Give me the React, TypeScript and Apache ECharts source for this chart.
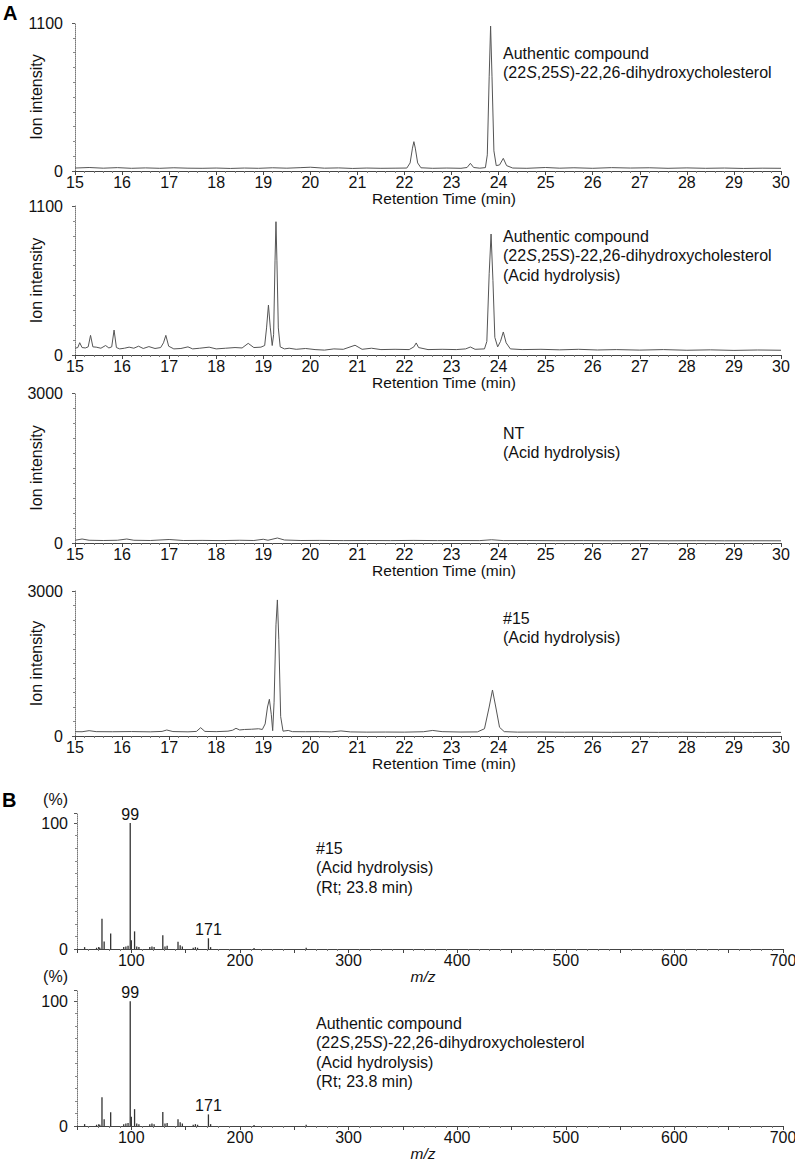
import React, { useEffect, useRef } from 'react';
import * as echarts from 'echarts';

const FONT = '"Liberation Sans", Arial, Helvetica, sans-serif';
const TEXT = '#111';

// ---------- Chromatograms (Retention time, min ; ion intensity) ----------
const chromAuthentic: number[][] = [
  [15.0, 22], [15.3, 26], [15.6, 21], [15.9, 25], [16.2, 20], [16.5, 23], [16.8, 20], [17.1, 24],
  [17.4, 21], [17.7, 20], [18.0, 22], [18.3, 19], [18.6, 22], [18.9, 20], [19.2, 24], [19.5, 21],
  [19.8, 25], [20.0, 28], [20.3, 21], [20.6, 23], [20.9, 19], [21.2, 22], [21.5, 20], [21.8, 21],
  [22.05, 22], [22.12, 60], [22.17, 170], [22.2, 218], [22.23, 170], [22.28, 60], [22.35, 24],
  [22.6, 20], [22.9, 22], [23.2, 20], [23.33, 26], [23.4, 57], [23.47, 26], [23.6, 21], [23.72, 25],
  [23.76, 120], [23.8, 700], [23.83, 1077], [23.86, 700], [23.9, 150], [23.95, 40], [24.02, 45],
  [24.1, 94], [24.17, 40], [24.3, 22], [24.6, 20], [25.0, 26], [25.3, 21], [25.6, 24], [26.0, 20],
  [26.4, 25], [26.8, 22], [27.2, 24], [27.6, 20], [28.0, 23], [28.4, 20], [28.8, 22], [29.2, 19],
  [29.6, 21], [30.0, 20],
];

const chromAuthenticAcid: number[][] = [
  [15.0, 50], [15.06, 55], [15.1, 91], [15.15, 55], [15.22, 52], [15.28, 60], [15.33, 145], [15.38, 60],
  [15.45, 58], [15.55, 50], [15.65, 70], [15.72, 52], [15.78, 60], [15.83, 184], [15.88, 55], [15.95, 45],
  [16.05, 50], [16.15, 58], [16.25, 50], [16.35, 65], [16.45, 48], [16.57, 62], [16.7, 48], [16.82, 55],
  [16.88, 90], [16.93, 145], [16.99, 65], [17.1, 45], [17.25, 48], [17.4, 60], [17.5, 45], [17.65, 50],
  [17.85, 58], [18.0, 45], [18.2, 50], [18.4, 55], [18.55, 52], [18.68, 86], [18.8, 55], [18.95, 58],
  [19.03, 70], [19.07, 200], [19.11, 369], [19.15, 200], [19.19, 70], [19.22, 150], [19.25, 700],
  [19.27, 984], [19.29, 700], [19.32, 200], [19.36, 60], [19.45, 45], [19.55, 50], [19.7, 42],
  [19.9, 48], [20.1, 40], [20.3, 36], [20.5, 45], [20.7, 42], [20.95, 72], [21.1, 42], [21.3, 50],
  [21.5, 40], [21.8, 42], [22.1, 40], [22.2, 60], [22.25, 89], [22.3, 55], [22.5, 40], [22.8, 42],
  [23.1, 40], [23.3, 45], [23.4, 59], [23.5, 42], [23.7, 45], [23.75, 100], [23.8, 600], [23.84, 893],
  [23.88, 550], [23.92, 130], [23.98, 60], [24.04, 100], [24.1, 170], [24.16, 90], [24.25, 45],
  [24.5, 40], [24.9, 42], [25.3, 38], [25.7, 42], [26.1, 37], [26.5, 40], [27.0, 36], [27.5, 40],
  [28.0, 35], [28.5, 38], [29.0, 34], [29.5, 37], [30.0, 35],
];

const chromNT: number[][] = [
  [15.0, 55], [15.15, 80], [15.3, 55], [15.6, 50], [15.9, 55], [16.1, 80], [16.25, 55], [16.6, 50],
  [17.0, 70], [17.3, 50], [17.7, 52], [18.1, 48], [18.5, 55], [18.8, 50], [19.0, 75], [19.1, 55],
  [19.3, 100], [19.45, 60], [19.8, 50], [20.2, 52], [20.7, 48], [21.2, 50], [21.7, 48], [22.2, 52],
  [22.7, 48], [23.2, 50], [23.6, 48], [23.85, 65], [24.1, 48], [24.6, 50], [25.2, 46], [25.8, 48],
  [26.4, 45], [27.0, 47], [27.6, 44], [28.2, 46], [28.8, 44], [29.4, 45], [30.0, 44],
];

const chrom15: number[][] = [
  [15.0, 90], [15.15, 88], [15.3, 110], [15.45, 90], [15.8, 88], [16.2, 92], [16.6, 86], [16.85, 95],
  [16.95, 124], [17.08, 92], [17.4, 86], [17.58, 95], [17.67, 172], [17.76, 95], [18.0, 90], [18.25, 100],
  [18.35, 120], [18.42, 159], [18.5, 125], [18.6, 135], [18.75, 140], [18.9, 150], [18.98, 135],
  [19.04, 250], [19.09, 600], [19.13, 760], [19.17, 450], [19.2, 110], [19.23, 700], [19.27, 2300],
  [19.3, 2815], [19.33, 2000], [19.37, 400], [19.42, 100], [19.53, 115], [19.62, 90], [19.9, 88],
  [20.2, 90], [20.45, 85], [20.65, 105], [20.85, 85], [21.2, 80], [21.6, 82], [22.0, 80], [22.4, 88],
  [22.6, 115], [22.8, 90], [23.2, 82], [23.55, 85], [23.7, 150], [23.8, 600], [23.87, 952], [23.94, 600],
  [24.02, 180], [24.12, 90], [24.4, 80], [24.9, 82], [25.4, 78], [25.9, 80], [26.4, 76], [26.9, 78],
  [27.4, 75], [27.9, 77], [28.4, 74], [28.9, 76], [29.4, 73], [30.0, 75],
];

const chromData = [chromAuthentic, chromAuthenticAcid, chromNT, chrom15];
const chromMax = [1100, 1100, 3000, 3000];
const rtRange = [15, 30];

// ---------- Mass spectra (m/z ; relative abundance %) ----------
const ms15: number[][] = [
  [57, 1.5], [68, 1], [70, 1.5], [71, 1], [73, 24], [75, 6], [81, 12.4], [93, 1.5], [95, 2], [97, 2.5],
  [99, 100], [100, 7], [103, 14], [105, 2], [107, 1.5], [117, 1.5], [119, 2], [121, 1.5], [129, 11],
  [131, 2], [133, 2.5], [143, 5.8], [145, 3], [147, 2], [157, 1], [159, 1.5], [161, 1], [171, 8.5],
  [173, 1.5], [213, 0.8], [261, 1],
];
const msAuthentic: number[][] = [
  [57, 1.5], [68, 1], [70, 1.5], [71, 1], [73, 23], [75, 5.5], [81, 11], [93, 1.5], [95, 2], [97, 2.5],
  [99, 100], [100, 7.4], [103, 13.5], [105, 2], [107, 1.5], [117, 1.5], [119, 2], [121, 1.5], [129, 11.3],
  [131, 2], [133, 2.5], [143, 5.5], [145, 3], [147, 2], [157, 1], [159, 1.5], [161, 1], [171, 9.3],
  [173, 1.5], [213, 0.8], [261, 1],
];
const msData = [ms15, msAuthentic];
const msLabeled = [99, 171];
const mzRange = [50, 700];

// ---------- Annotations ----------
const chromNotes: string[][] = [
  ['Authentic compound', '(22{i|S},25{i|S})-22,26-dihydroxycholesterol'],
  ['Authentic compound', '(22{i|S},25{i|S})-22,26-dihydroxycholesterol', '(Acid hydrolysis)'],
  ['NT', '(Acid hydrolysis)'],
  ['#15', '(Acid hydrolysis)'],
];
const msNotes: string[][] = [
  ['#15', '(Acid hydrolysis)', '(Rt; 23.8 min)'],
  ['Authentic compound', '(22{i|S},25{i|S})-22,26-dihydroxycholesterol', '(Acid hydrolysis)', '(Rt; 23.8 min)'],
];

export default function App() {
  const ref = useRef<HTMLDivElement>(null);

  useEffect(() => {
    document.body.style.margin = '0';
    if (!ref.current) return;
    const chart = echarts.init(ref.current, undefined, { renderer: 'svg' });

    const chromGrids = [
      { top: 23, height: 148 },
      { top: 206, height: 149 },
      { top: 393, height: 150 },
      { top: 591, height: 145 },
    ];
    const msGrids = [
      { top: 813, height: 136, max: 108 },
      { top: 990, height: 136, max: 109 },
    ];
    const chromNoteY = [53, 236, 433, 618];
    const msNoteY = [848, 1023];

    const grid: any[] = [];
    const xAxis: any[] = [];
    const yAxis: any[] = [];
    const series: any[] = [];
    const graphic: any[] = [];

    const txt = { fontFamily: FONT, fontSize: 16, color: TEXT };
    const nameTxt = { fontFamily: FONT, fontSize: 15.5, color: TEXT };

    chromGrids.forEach((g, i) => {
      grid.push({ left: 75, width: 706, top: g.top, height: g.height, outerBoundsMode: 'none' });
      xAxis.push({
        type: 'value', gridIndex: i, min: rtRange[0], max: rtRange[1], interval: 1,
        axisLine: { show: true, lineStyle: { color: '#444', width: 1 } },
        axisTick: { show: true, length: 4, lineStyle: { color: '#444' } },
        minorTick: { show: true, splitNumber: 5, length: 2, lineStyle: { color: '#777' } },
        splitLine: { show: false },
        axisLabel: { ...txt, margin: 3, formatter: (v: number) => String(v) },
        name: 'Retention Time (min)', nameLocation: 'middle', nameGap: 19, nameMoveOverlap: false,
        nameTextStyle: { ...nameTxt, padding: [0, 0, 0, 32] },
      });
      yAxis.push({
        type: 'value', gridIndex: i, min: 0, max: chromMax[i], interval: chromMax[i],
        axisLine: { show: true, lineStyle: { color: '#777', type: 'dotted' } },
        axisTick: { show: true, length: 3, lineStyle: { color: '#555' } },
        minorTick: { show: true, splitNumber: 10, length: 2, lineStyle: { color: '#888' } },
        splitLine: { show: false },
        axisLabel: { ...txt, margin: 12, formatter: (v: number) => String(v) },
        name: 'Ion intensity', nameLocation: 'middle', nameGap: 31, nameRotate: 90, nameMoveOverlap: false,
        nameTextStyle: txt,
      });
      series.push({
        type: 'line', xAxisIndex: i, yAxisIndex: i, data: chromData[i],
        showSymbol: false, symbol: 'none', silent: true,
        lineStyle: { color: '#555', width: 1 },
      });
      chromNotes[i].forEach((line, k) => {
        graphic.push({
          type: 'text', x: 503, y: chromNoteY[i] + k * 19.5, silent: true,
          style: {
            text: line, fill: TEXT, font: `16px ${FONT}`, verticalAlign: 'middle',
            rich: { i: { fontStyle: 'italic', fontSize: 16, fontFamily: FONT, fill: TEXT } },
          },
        });
      });
    });

    msGrids.forEach((g, j) => {
      const i = j + 4;
      grid.push({ left: 77, width: 706, top: g.top, height: g.height, outerBoundsMode: 'none' });
      xAxis.push({
        type: 'value', gridIndex: i, min: mzRange[0], max: mzRange[1], interval: 50,
        axisLine: { show: true, lineStyle: { color: '#444', width: 1 } },
        axisTick: { show: true, length: 4, lineStyle: { color: '#444' } },
        minorTick: { show: true, splitNumber: 5, length: 2, lineStyle: { color: '#777' } },
        splitLine: { show: false },
        axisLabel: { ...txt, margin: 3, formatter: (v: number) => (v % 100 === 0 ? String(v) : '') },
        name: 'm/z', nameLocation: 'middle', nameGap: 19, nameMoveOverlap: false,
        nameTextStyle: { ...nameTxt, fontStyle: 'italic', padding: [0, 14, 0, 0] },
      });
      yAxis.push({
        type: 'value', gridIndex: i, min: 0, max: g.max, interval: 100,
        axisLine: { show: true, lineStyle: { color: '#777', type: 'dotted' } },
        axisTick: { show: true, length: 3, lineStyle: { color: '#555' } },
        minorTick: { show: true, splitNumber: 10, length: 2, lineStyle: { color: '#888' } },
        splitLine: { show: false },
        axisLabel: { ...txt, margin: 9, formatter: (v: number) => (v === 0 || v === 100 ? String(v) : '') },
        name: '(%)', nameLocation: 'end', nameGap: 6, nameMoveOverlap: false,
        nameTextStyle: { ...txt, align: 'right', padding: [0, 9, 0, 0] },
      });
      series.push({
        type: 'bar', xAxisIndex: i, yAxisIndex: i, barWidth: 1.3, silent: true,
        itemStyle: { color: '#333' },
        data: msData[j].map((d) => ({
          value: d,
          label: msLabeled.includes(d[0])
            ? { show: true, position: 'top', distance: 1, formatter: String(d[0]), ...txt }
            : { show: false },
        })),
      });
      msNotes[j].forEach((line, k) => {
        graphic.push({
          type: 'text', x: 316, y: msNoteY[j] + k * 19.5, silent: true,
          style: {
            text: line, fill: TEXT, font: `16px ${FONT}`, verticalAlign: 'middle',
            rich: { i: { fontStyle: 'italic', fontSize: 16, fontFamily: FONT, fill: TEXT } },
          },
        });
      });
    });

    graphic.push({
      type: 'text', x: 3, y: 13, silent: true,
      style: { text: 'A', fill: '#000', font: `bold 20px ${FONT}`, verticalAlign: 'middle' },
    });
    graphic.push({
      type: 'text', x: 2, y: 800, silent: true,
      style: { text: 'B', fill: '#000', font: `bold 20px ${FONT}`, verticalAlign: 'middle' },
    });

    chart.setOption({
      animation: false,
      backgroundColor: '#fff',
      textStyle: { fontFamily: FONT },
      grid, xAxis, yAxis, series, graphic,
    });

    return () => chart.dispose();
  }, []);

  return <div ref={ref} style={{ width: 795, height: 1160 }} />;
}
